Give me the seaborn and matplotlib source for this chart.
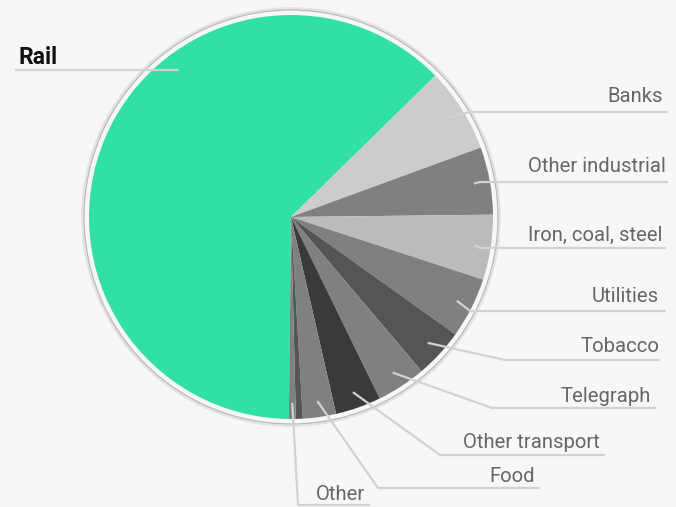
import numpy as np
import seaborn as sns
import matplotlib.pyplot as plt
from matplotlib.patches import Circle

sns.set_style("white")
plt.rcParams['font.family'] = ['Roboto', 'DejaVu Sans']

# data (share of market, %)
sectors = ["Rail", "Banks", "Other industrial", "Iron, coal, steel", "Utilities",
           "Tobacco", "Telegraph", "Other transport", "Food", "", "Other"]
shares = [62.5, 6.75, 5.4, 5.2, 4.85, 3.95, 3.95, 3.65, 2.65, 0.55, 0.55]
colors = ["#31e0a6", "#cccccc", "#808080", "#bbbbbb", "#808080", "#555555",
          "#808080", "#3a3a38", "#808080", "#555555", "#808080"]

W, H = 676, 507
BG = "#f7f7f7"
cx, cy, R = 291, 217, 202   # pie centre / radius in pixels

# label layout in pixels: (line y, elbow x, line end x, text x, text y)
layout = {
    "Rail": (70, 178, 15, 18, 57),
    "Banks": (112, 470, 668, 663, 97),
    "Other industrial": (182, 480, 668, 666, 167),
    "Iron, coal, steel": (248, 480, 666, 663, 235),
    "Utilities": (311, 470, 666, 659, 297),
    "Tobacco": (360, 505, 660, 659, 347),
    "Telegraph": (408, 492, 656, 651, 397),
    "Other transport": (455, 440, 605, 600, 443),
    "Food": (488, 378, 540, 535, 477),
    "Other": (505, 298, 370, 365, 494),
}

fig = plt.figure(figsize=(W / 100, H / 100), dpi=100, facecolor=BG)
ax = fig.add_axes([0, 0, 1, 1])
ax.set_facecolor(BG)

wedges, _ = ax.pie(shares, colors=colors, startangle=-90.6, counterclock=False,
                   center=(cx, H - cy), radius=R, wedgeprops=dict(linewidth=0))

# outer ring
ax.add_patch(Circle((cx, H - cy), R + 6, fill=False, ec="#e2e2e2", lw=2.6))
ax.add_patch(Circle((cx, H - cy), R + 5, fill=False, ec="#b5b5b5", lw=0.7))

for w, name in zip(wedges, sectors):
    if not name:
        continue
    ly, ex, endx, tx, ty = layout[name]
    if name == "Rail":
        ang = np.deg2rad(90 - 322.5)
    else:
        ang = np.deg2rad((w.theta1 + w.theta2) / 2)
    ax_, ay_ = cx + 0.92 * R * np.cos(ang), (H - cy) + 0.92 * R * np.sin(ang)
    ax.plot([ax_, ex, endx], [ay_, H - ly, H - ly], color="#d2d2d2", lw=1.6,
            solid_capstyle="butt", zorder=3)
    if name == "Rail":
        ax.text(tx, H - ty, name, ha="left", va="center", fontsize=16.5,
                fontweight="bold", color="#111111")
    else:
        ax.text(tx, H - ty, name, ha="right", va="center", fontsize=14.6,
                color="#666666")

ax.set_xlim(0, W)
ax.set_ylim(0, H)
ax.set_aspect("auto")
ax.axis("off")

plt.savefig("out.png", dpi=100, facecolor=BG)
plt.close()
